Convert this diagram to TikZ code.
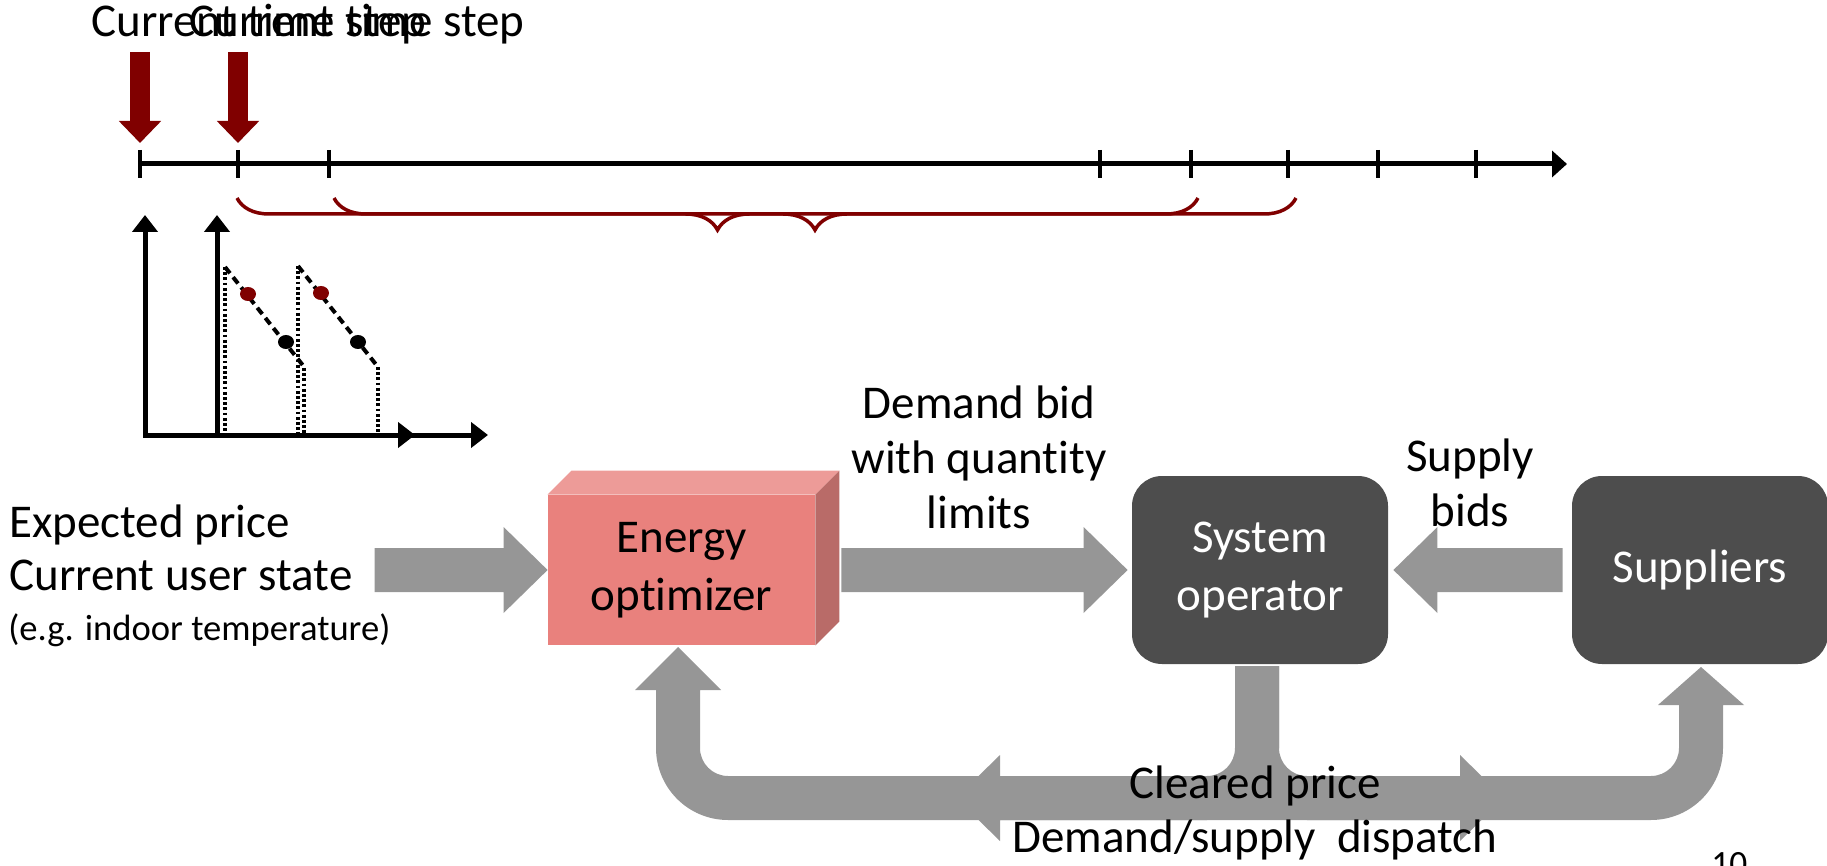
\documentclass[tikz,border=0pt]{standalone}
\usepackage{fontspec}
\setmainfont{Carlito}[Ligatures=NoCommon]
\usetikzlibrary{arrows.meta,calc,decorations.pathreplacing}

\definecolor{flowgray}{RGB}{150,150,150}
\definecolor{boxgray}{RGB}{77,77,77}
\definecolor{nowred}{RGB}{128,0,0}
\definecolor{optfront}{RGB}{233,129,125}
\definecolor{opttop}{RGB}{237,155,152}
\definecolor{optside}{RGB}{185,107,104}

\newcommand\bigfont{\fontsize{23.5}{27.5}\selectfont}
\newcommand\boxfont{\fontsize{23.5}{29}\selectfont}

% block arrow from #1 (tail) to #2 (tip)
\newcommand\flowarrow[2]{%
  \path ($(#2)!22pt!(#1)$) coordinate (fa-base);
  \fill[flow] ($(#1)!11pt!90:(#2)$) -- ($(fa-base)!11pt!-90:(#1)$)
    -- ($(fa-base)!21.5pt!-90:(#1)$) -- (#2)
    -- ($(fa-base)!21.5pt!90:(#1)$) -- ($(fa-base)!11pt!90:(#1)$)
    -- ($(#1)!11pt!-90:(#2)$) -- cycle;}

\begin{document}
\begin{tikzpicture}[x=0.5pt, y=-0.5pt,
  flow/.style={fill=flowgray},
  txt/.style={font=\bigfont, inner sep=0pt, align=center},
  agent/.style={fill=boxgray, rounded corners=15pt, minimum width=128pt, minimum height=94pt,
    text=white, font=\boxfont, align=center, inner sep=0pt},
  optbox/.style={fill=optfront, minimum width=133.5pt, minimum height=75pt,
    font=\boxfont, align=center, inner sep=0pt},
  nowarrow/.style={draw=nowred, line width=10pt, -{Triangle[width=20.5pt,length=11pt]}},
  horizon/.style={draw=nowred, line width=1.75pt, decorate, decoration={brace, mirror, amplitude=16pt}},
  axis/.style={line width=2.5pt, {Triangle[width=12.5pt,length=8.5pt]}-{Triangle[width=12.5pt,length=8.5pt]}},
  bidline/.style={line width=2pt, dash pattern=on 4pt off 2.5pt},
  drop/.style={line width=1.6pt, dash pattern=on 1.4pt off 1.2pt}]
\useasboundingbox (0,0) rectangle (1827,866);

% time axis
\draw[line width=2.5pt, -{Triangle[width=13pt,length=7.5pt]}] (140,164) -- (1567,164);
\foreach \x [count=\i] in {140,238,329,1100,1191,1288,1378,1476} {
  \draw[line width=2pt] (\x,150) -- (\x,178);
  \coordinate (t\i) at (\x,164);
}
\node[txt, anchor=base west] (now1) at (91,37) {Current time step};
\node[txt, anchor=base west] (now2) at (189,37) {Current time step};
\draw[nowarrow] (140,52) -- ([yshift=10.5pt]t1);
\draw[nowarrow] (238,52) -- ([yshift=10.5pt]t2);
\draw[horizon] (237,198) -- (1198,198);
\draw[horizon] (334,198) -- (1296,198);

% bid curves
\draw[axis] (145,215) -- (145,435) -- (415,435);
\draw[axis] (217,215) -- (217,435) -- (488,435);
\draw[drop] (225,267) -- (225,433);
\draw[drop] (304,368) -- (304,433);
\draw[drop] (298,266) -- (298,433);
\draw[drop] (378,367) -- (378,433);
\draw[bidline] (225,267) -- (305,368);
\draw[bidline] (298,266) -- (378,367);
\fill[nowred] (248,294) ellipse[x radius=4pt, y radius=3.5pt];
\fill[nowred] (321,293) ellipse[x radius=4pt, y radius=3.5pt];
\fill (286,342) ellipse[x radius=4pt, y radius=3.5pt];
\fill (358,342) ellipse[x radius=4pt, y radius=3.5pt];

% market
\node[optbox] (opt) at (681.5,570) {Energy\\optimizer};
\fill[opttop] (opt.north west) -- ++(12pt,12pt) -- ([shift={(12pt,12pt)}]opt.north east) -- (opt.north east) -- cycle;
\fill[optside] (opt.north east) -- ++(12pt,12pt) -- ([shift={(12pt,12pt)}]opt.south east) -- (opt.south east) -- cycle;
\node[agent] (sysop) at (1260,570) {System\\operator};
\node[agent] (sup) at (1700,570) {Suppliers};

\node[txt, anchor=base west] (expect) at (9,537) {Expected price};
\node[txt, anchor=base west] (state) at (9,590) {Current user state};
\node[anchor=base west, inner sep=0pt, font=\fontsize{18.3}{22}\selectfont] (eg) at (8,640) {(e.g. indoor temperature)};

\coordinate (in) at ($(opt.west)+(-173,0)$);
\coordinate (bidtail) at ($(opt.east)+(26,0)$);
\coordinate (bidtip) at ([xshift=-2pt]sysop.west);
\coordinate (suptail) at ([xshift=-4.5pt]sup.west);
\coordinate (suptip) at ([xshift=2.5pt]sysop.east);
\flowarrow{in}{opt.west}
\flowarrow{bidtail}{bidtip}
\flowarrow{suptail}{suptip}
\node[txt, anchor=base] (bid) at (979,528) {Demand bid\\with quantity\\limits};
\node[txt, anchor=base] (supbid) at (1470,526) {Supply\\bids};

% clearing results back to both sides
\fill[flow] (1235,666) -- (1235,748) arc[start angle=0,end angle=-90,radius=14pt]
  -- (728,776) arc[start angle=-90,end angle=-180,radius=14pt]
  -- (700,690) -- (721,690) -- (678,647) -- (635,690) -- (656,690)
  -- (656,748) arc[start angle=180,end angle=270,radius=36pt]
  -- (1207,820) arc[start angle=270,end angle=360,radius=36pt]
  -- (1279,666) -- cycle;
\fill[flow] (1279,666) -- (1279,748) arc[start angle=180,end angle=270,radius=14pt]
  -- (1651,776) arc[start angle=270,end angle=360,radius=14pt]
  -- (1679,705) -- (1658,705) -- (1701,667) -- (1744,705) -- (1723,705)
  -- (1723,748) arc[start angle=0,end angle=-90,radius=36pt]
  -- (1307,820) arc[start angle=-90,end angle=-180,radius=36pt]
  -- (1235,666) -- cycle;
\coordinate (hub) at (1257,798);
\coordinate (lefttip) at (956,798);
\coordinate (righttip) at (1504,798);
\flowarrow{hub}{lefttip}
\flowarrow{hub}{righttip}
\node[txt, anchor=base] (price) at (1255,798) {Cleared price};
\node[txt, anchor=base] (dispatch) at (1255,852) {Demand/supply~~dispatch};

\node[anchor=base west, inner sep=0pt, font=\fontsize{17.75}{20}\selectfont] (pageno) at (1711,875) {10};
\end{tikzpicture}
\end{document}
